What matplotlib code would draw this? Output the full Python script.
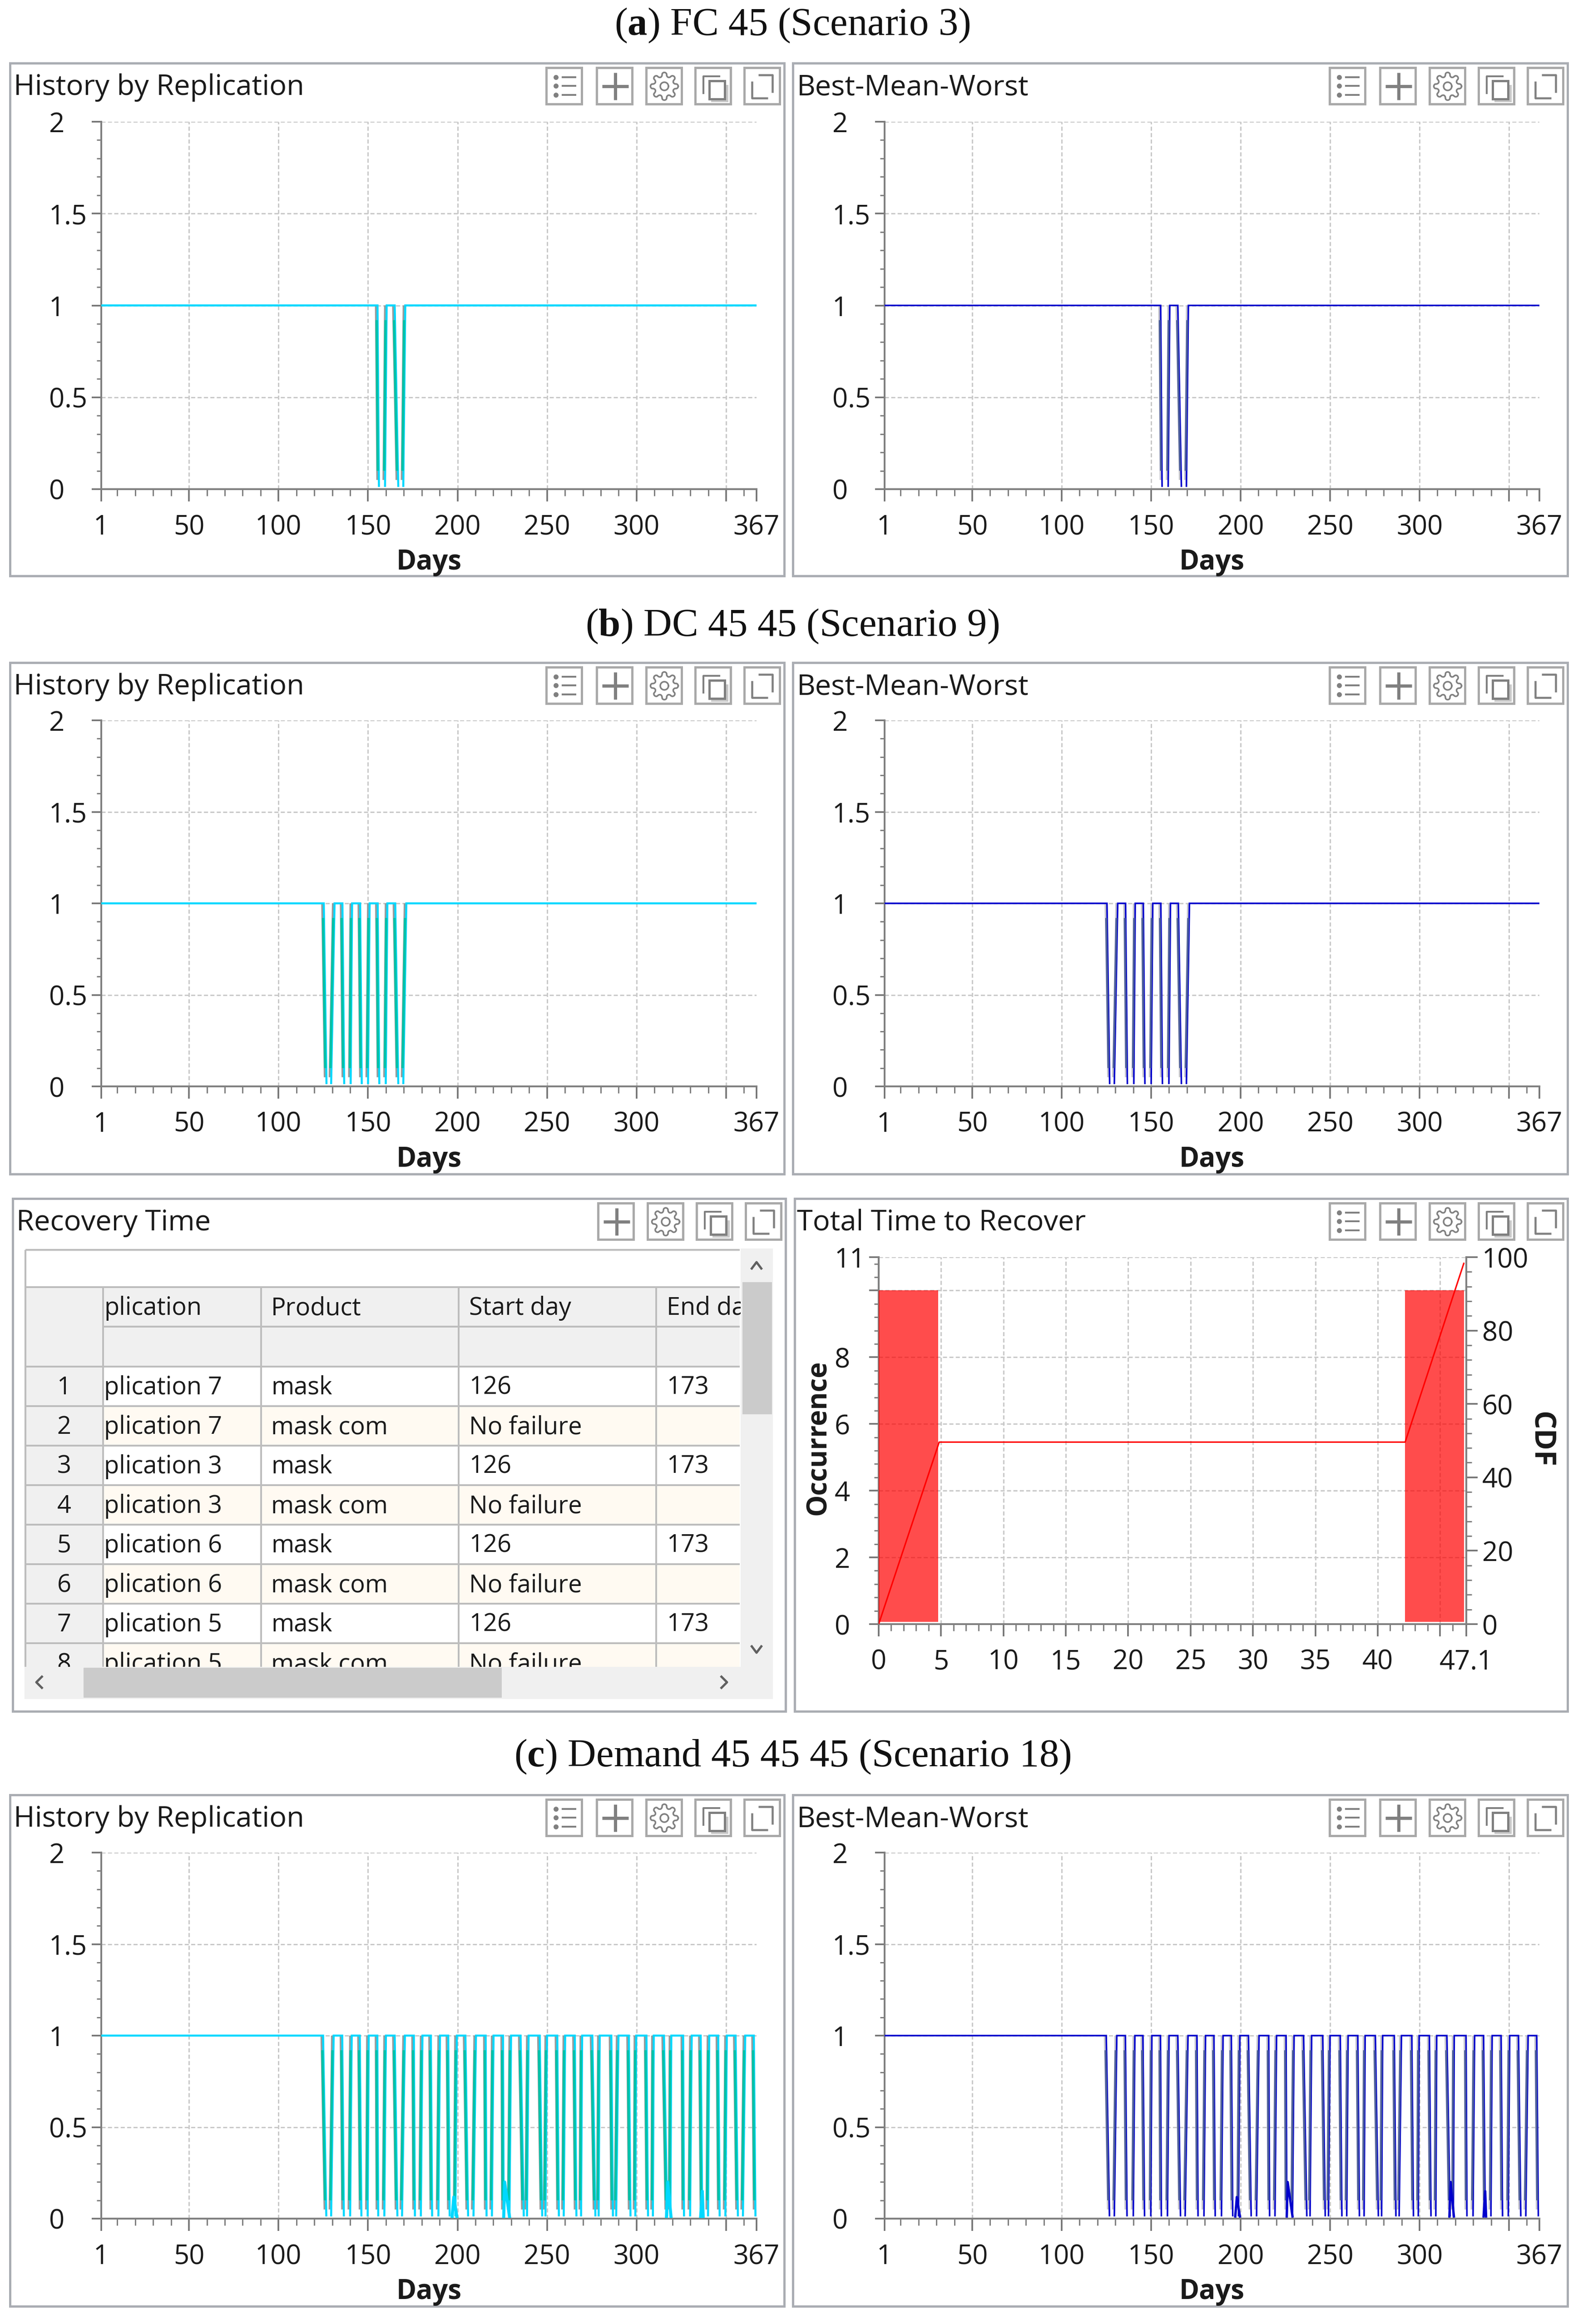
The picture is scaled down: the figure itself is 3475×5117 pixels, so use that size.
import numpy as np
import matplotlib
matplotlib.use("Agg")
import matplotlib.pyplot as plt
from matplotlib.patches import Rectangle

W, H = 3475, 5117
plt.rcParams['font.family'] = ['Open Sans', 'DejaVu Sans']
plt.rcParams['mathtext.fontset'] = 'custom'
plt.rcParams['mathtext.rm'] = 'Liberation Serif'
plt.rcParams['mathtext.bf'] = 'Liberation Serif:bold'

# ---------- data ----------
fc_fall_start = [155.3, 164.9]
fc_fall_end = [156.1, 166.9]
fc_rise_start = [159.5, 169.7]
fc_rise_end = [160.4, 170.8]

dc_fall_start = [125.3, 135.7, 145.6, 155.4, 165.2]
dc_fall_end = [126.8, 136.7, 146.5, 156.3, 166.9]
dc_rise_start = [129.4, 140.3, 150.0, 159.9, 169.7]
dc_rise_end = [131.3, 141.1, 150.9, 160.8, 171.4]

dm_fall_start = [124.9, 135.6, 145.4, 155.2, 164.9, 175.6, 185.1, 194.8, 204.4, 215.7,
                 225.4, 235.2, 245.9, 255.7, 265.5, 275.3, 285.9, 295.7, 305.5, 315.3,
                 326.0, 335.8, 345.6, 355.3, 365.5]
dm_fall_end = [126.7, 136.5, 146.3, 155.7, 166.4, 176.2, 185.8, 195.6, 205.9, 216.2,
               225.8, 237.0, 247.3, 256.6, 266.4, 277.0, 286.8, 296.6, 306.4, 317.1,
               326.5, 336.7, 346.4, 356.6, 366.4]
dm_rise_start = [129.4, 140.0, 149.8, 159.1, 169.0, 179.5, 189.3, 198.8, 208.9, 219.2,
                 229.0, 238.8, 249.1, 259.3, 269.0, 278.8, 288.6, 299.3, 309.1, 318.9,
                 329.9, 339.9, 349.6, 359.4]
dm_rise_end = [130.8, 140.9, 150.4, 160.0, 170.6, 180.4, 190.2, 199.6, 210.3, 220.1,
               229.9, 239.7, 250.0, 260.1, 269.6, 279.4, 289.9, 299.8, 309.6, 319.4,
               330.8, 340.6, 350.4, 360.7]
glitch_start = [197.0, 225.8, 316.7, 335.8]
glitch_peak = [197.9, 226.3, 317.4, 336.7]
glitch_end = [199.6, 229.0, 319.2, 337.2]
glitch_height = [0.118, 0.2, 0.2, 0.15]

day_major = [1, 50, 100, 150, 200, 250, 300, 350, 367]
day_labels = ['1', '50', '100', '150', '200', '250', '300', '', '367']
day_minor = [10, 20, 30, 40, 60, 70, 80, 90, 110, 120, 130, 140, 160, 170, 180, 190, 210, 220,
             230, 240, 260, 270, 280, 290, 310, 320, 330, 340, 360]
level_major = [0, 0.5, 1, 1.5, 2]
level_labels = ['0', '0.5', '1', '1.5', '2']

ttr_edges = [0, 4.77, 42.2, 46.9]
ttr_counts = [10, 10]
ttr_cdf_x = [0, 4.85, 42.2, 46.9]
ttr_cdf_y = [0, 49.6, 49.6, 98.3]
ttr_x_major = [0, 5, 10, 15, 20, 25, 30, 35, 40, 45, 47.1]
ttr_x_labels = ['0', '5', '10', '15', '20', '25', '30', '35', '40', '', '47.1']
ttr_y_major = [0, 2, 4, 6, 8, 10, 11]
ttr_y_labels = ['0', '2', '4', '6', '8', '', '11']
cdf_major = [0, 20, 40, 60, 80, 100]

table_ids = ['1', '2', '3', '4', '5', '6', '7', '8']
table_headers = ['plication', 'Product', 'Start day', 'End day']
table_replication = ['plication 7', 'plication 7', 'plication 3', 'plication 3',
                     'plication 6', 'plication 6', 'plication 5', 'plication 5']
table_product = ['mask', 'mask com'] * 4
table_start = ['126', 'No failure'] * 4
table_end = ['173', ''] * 4

captions = [(r'($\mathbf{a}$) FC 45 (Scenario 3)', 56),
            (r'($\mathbf{b}$) DC 45 45 (Scenario 9)', 1379),
            (r'($\mathbf{c}$) Demand 45 45 45 (Scenario 18)', 3868)]

# ---------- style ----------
PX = 72 / 100.0
FS_TITLE = 45.5
FS_TICK = 43
FS_TABLE = 39
FS_BOLD = 43
FRAME = '#AAADB3'
ICON = '#808080'
GRID = '#C9C9C9'
AXC = '#808080'
TXT = '#1a1a1a'

fig = plt.figure(figsize=(W / 100, H / 100), dpi=100, facecolor='white')
bg = fig.add_axes([0, 0, 1, 1], zorder=0)
bg.set_xlim(0, W)
bg.set_ylim(H, 0)
bg.axis('off')


def add_axes_px(l, r, t, b, **kw):
    return fig.add_axes([l / W, 1 - b / H, (r - l) / W, (b - t) / H], facecolor='none', **kw)


def rect(x0, y0, x1, y1, fc, ec='none', lw=0, z=1):
    bg.add_patch(Rectangle((x0, y0), x1 - x0, y1 - y0, facecolor=fc, edgecolor=ec,
                           linewidth=lw * PX, zorder=z))


def seg(xs, ys, c=ICON, lw=4, z=3):
    bg.plot(xs, ys, color=c, lw=lw * PX, zorder=z, solid_capstyle='butt')


def icon_box(x0, y0):
    rect(x0, y0, x0 + 78, y0 + 80, 'white', '#A9A9A9', 5, 2)


def icon_list(x0, y0):
    icon_box(x0, y0)
    for k in (21, 40, 60):
        bg.plot([x0 + 21], [y0 + k], 'o', ms=11 * PX, color=ICON, zorder=3, mew=0)
        seg([x0 + 34, x0 + 66], [y0 + k, y0 + k], lw=4)


def icon_plus(x0, y0):
    icon_box(x0, y0)
    seg([x0 + 12, x0 + 70], [y0 + 41, y0 + 41], lw=7)
    seg([x0 + 41, x0 + 41], [y0 + 11, y0 + 71], lw=7)


def icon_gear(x0, y0):
    icon_box(x0, y0)
    th = np.linspace(0, 2 * np.pi, 200)
    r = 26 + 4.5 * np.sign(np.cos(8 * th)) * np.abs(np.cos(8 * th)) ** 0.5
    bg.plot(x0 + 40 + r * np.cos(th), y0 + 41 + r * np.sin(th), color=ICON, lw=3.5 * PX, zorder=3)
    bg.plot(x0 + 40 + 9 * np.cos(th), y0 + 41 + 9 * np.sin(th), color=ICON, lw=3.5 * PX, zorder=3)


def icon_copy(x0, y0):
    icon_box(x0, y0)
    seg([x0 + 18, x0 + 18, x0 + 55], [y0 + 58, y0 + 19, y0 + 19], lw=4)
    rect(x0 + 35, y0 + 38, x0 + 73, y0 + 76, '#C8C8C8', z=3)
    rect(x0 + 31, y0 + 29, x0 + 65, y0 + 69, 'white', ICON, 5, 4)


def icon_expand(x0, y0):
    icon_box(x0, y0)
    seg([x0 + 31, x0 + 62, x0 + 62], [y0 + 16, y0 + 16, y0 + 55], lw=4.5)
    seg([x0 + 17, x0 + 17, x0 + 52], [y0 + 30, y0 + 67, y0 + 67], lw=4.5)


def panel(l, r, t, b, title, with_list=True, title_dx=7):
    rect(l, t, r, b, 'white', FRAME, 5, 0.5)
    bg.text(l + title_dx, t + 54, title, fontsize=FS_TITLE, color=TXT, va='center', ha='left', zorder=3)
    if with_list:
        icon_list(r - 524, t + 10)
    icon_plus(r - 413, t + 10)
    icon_gear(r - 304, t + 10)
    icon_copy(r - 196, t + 10)
    icon_expand(r - 88, t + 10)


def style_axis(ax, left_pad_px):
    for s in ('top', 'right'):
        ax.spines[s].set_visible(False)
    for s in ('left', 'bottom'):
        ax.spines[s].set_color(AXC)
        ax.spines[s].set_linewidth(4 * PX)
    ax.tick_params(axis='both', which='major', color='#707070', width=3.5 * PX, labelsize=FS_TICK,
                   labelcolor=TXT)
    ax.tick_params(axis='x', which='major', length=27 * PX, pad=27 * PX)
    ax.tick_params(axis='x', which='minor', length=15 * PX, width=3 * PX, color='#808080')
    ax.tick_params(axis='y', which='major', length=21 * PX, pad=left_pad_px * PX)
    ax.tick_params(axis='y', which='minor', length=10 * PX, width=3 * PX, color='#808080')
    plt.setp(ax.get_yticklabels(), ha='left')
    ax.grid(True, which='major', color=GRID, lw=3 * PX, ls=(0, (3, 1.7)))
    ax.set_axisbelow(True)


def edges(fs, fe, rs, re, low, dx=0.0, y_hi=1.0, y_lo=None):
    """Falling and rising edges of a trace, cut to y_hi ... y_lo."""
    y_lo = low if y_lo is None else y_lo
    out = []
    for a, b in zip(fs, fe):
        xa = a + (b - a) * (1 - y_hi) / (1 - low)
        xb = a + (b - a) * (1 - y_lo) / (1 - low)
        out.append(([xa + dx, xb + dx], [y_hi, y_lo]))
    for a, b in zip(rs, re):
        xa = a + (b - a) * (y_lo - low) / (1 - low)
        xb = a + (b - a) * (y_hi - low) / (1 - low)
        out.append(([xa + dx, xb + dx], [y_lo, y_hi]))
    return out


def trace(fs, fe, rs, re, low=0.012):
    xs, ys = [1], [1]
    for i in range(len(fs)):
        xs += [fs[i], fe[i]]
        ys += [1, low]
        if i < len(rs):
            xs += [np.nan, rs[i], re[i]]
            ys += [np.nan, low, 1]
    if len(rs) == len(fs):
        xs.append(367)
        ys.append(1)
    return xs, ys


def history_chart(l, r, t, b, fs, fe, rs, re, palette, lw_px, glitches=False):
    top_c, mid_c, gray_c = palette
    ax = add_axes_px(l, r, t, b, zorder=2)
    ax.set_xlim(1, 367)
    ax.set_ylim(0, 2)
    ax.set_xticks(day_major)
    ax.set_xticklabels(day_labels)
    ax.set_xticks(day_minor, minor=True)
    ax.set_yticks(level_major)
    ax.set_yticklabels(level_labels)
    ax.set_yticks(np.arange(0, 2.01, 0.1), minor=True)
    style_axis(ax, 94)
    for tk in ax.xaxis.get_major_ticks():
        if tk.get_loc() in (1, 367):
            tk.gridline.set_visible(False)
    ax.yaxis.get_major_ticks()[0].gridline.set_visible(False)

    low = 0.012
    for ex, ey in edges(fs, fe, rs, re, low, dx=-0.7, y_lo=0.05):
        ax.plot(ex, ey, color=gray_c, lw=(lw_px + 1.5) * PX, solid_capstyle='butt', zorder=3)
    xs, ys = trace(fs, fe, rs, re, low)
    ax.plot(xs, ys, color=top_c, lw=lw_px * PX, solid_joinstyle='miter', solid_capstyle='butt', zorder=4)
    for ex, ey in edges(fs, fe, rs, re, low, dx=-0.55, y_hi=0.92, y_lo=0.1):
        ax.plot(ex, ey, color=mid_c, lw=(lw_px + 0.8) * PX, solid_capstyle='butt', zorder=5)
    if glitches:
        for a, p, e, h in zip(glitch_start, glitch_peak, glitch_end, glitch_height):
            ax.plot([a, p, e], [low, h, low], color=top_c, lw=lw_px * 1.5 * PX, zorder=6)
    return ax


CYAN = ('#00D8FF', '#00C2A8', '#9A9A9A')
BLUE = ('#0000CC', '#4A5C9C', '#C2C2CA')

# ---------- captions ----------
for cap, yy in captions:
    bg.text(1745, yy, cap, fontsize=62.5, family='Liberation Serif', ha='center', va='center', color='#111111')

# ---------- history rows ----------
rows = [(139, 1268, 129, 938, fc_fall_start, fc_fall_end, fc_rise_start, fc_rise_end, False),
        (1459, 2585, 127, 933, dc_fall_start, dc_fall_end, dc_rise_start, dc_rise_end, False),
        (3952, 5078, 127, 933, dm_fall_start, dm_fall_end, dm_rise_start, dm_rise_end, True)]
for top, bottom, a_top, a_bot, fs, fe, rs, re, gl in rows:
    panel(22, 1727, top, bottom, 'History by Replication', title_dx=8)
    panel(1746, 3452, top, bottom, 'Best-Mean-Worst', title_dx=9)
    for l, r, pal, lw in ((223, 1666, CYAN, 4.5), (1948, 3390, BLUE, 3.5)):
        ax = history_chart(l, r, top + a_top, top + a_bot, fs, fe, rs, re, pal, lw, gl)
        ax.text(0.5, -0.2, 'Days', transform=ax.transAxes, fontsize=FS_BOLD, fontweight='bold',
                ha='center', va='center', color=TXT)

# ---------- recovery table ----------
P_T, P_B = 2639, 3768
panel(28, 1730, P_T, P_B, 'Recovery Time', with_list=False, title_dx=8)
T_L, T_R, T_T, T_B = 56, 1629, 2752, 3670
HEAD_1, HEAD_2, HEAD_3 = 2834, 2921, 3009
ROW_H = 87
COLS = [227, 575, 1010, 1445]
LINE = '#BDBDBD'
rect(T_L, HEAD_1, T_R, HEAD_3, '#F0F0F0', z=1)
rect(T_L, HEAD_3, COLS[0], T_B, '#F0F0F0', z=1)
for i in range(len(table_ids)):
    y0 = HEAD_3 + i * ROW_H
    if i % 2 == 1:
        rect(COLS[0], y0, T_R, y0 + ROW_H, '#FFFAF2', z=1)
    seg([T_L, T_R], [y0, y0], c=LINE, lw=4, z=2)
seg([T_L, T_R], [T_T, T_T], c=LINE, lw=4, z=2)
seg([T_L, T_R], [HEAD_1, HEAD_1], c=LINE, lw=4, z=2)
seg([COLS[0], T_R], [HEAD_2, HEAD_2], c=LINE, lw=4, z=2)
seg([T_L, T_L], [T_T, T_B], c=LINE, lw=4, z=2)
for c in COLS:
    seg([c, c], [HEAD_1, T_B], c=LINE, lw=4, z=2)
TEXT_X = [229, 597, 1033, 1468]
for x, h in zip(TEXT_X, table_headers):
    bg.text(x, (HEAD_1 + HEAD_2) / 2 + 3, h, fontsize=FS_TABLE, va='center', color=TXT, zorder=3)
for i in range(len(table_ids)):
    yc = HEAD_3 + (i + 0.5) * ROW_H + 3
    bg.text(141, yc, table_ids[i], fontsize=FS_TABLE, va='center', ha='center', color=TXT, zorder=3)
    for x, col in zip(TEXT_X, (table_replication, table_product, table_start, table_end)):
        bg.text(x, yc, col[i], fontsize=FS_TABLE, va='center', color=TXT, zorder=3)
# scroll bars cover whatever runs out of the table
rect(T_R + 2, T_T - 3, 1702, T_B, '#F0F0F0', z=4)
rect(1635, 2823, 1700, 3114, '#CBCBCB', z=5)
rect(T_L - 2, T_B, 1702, 3741, '#F0F0F0', z=4)
rect(184, 3672, 1105, 3738, '#CBCBCB', z=5)
CH = '#606060'
seg([1654, 1666, 1678], [2795, 2779, 2795], c=CH, lw=5, z=6)
seg([1654, 1666, 1678], [3623, 3639, 3623], c=CH, lw=5, z=6)
seg([94, 80, 94], [3690, 3704, 3718], c=CH, lw=5, z=6)
seg([1587, 1601, 1587], [3690, 3704, 3718], c=CH, lw=5, z=6)

# ---------- total time to recover ----------
panel(1750, 3452, P_T, P_B, 'Total Time to Recover', title_dx=5)
ax = add_axes_px(1935, 3229, 2768, 3576, zorder=2)
ax.set_xlim(0, 47.1)
ax.set_ylim(0, 11)
ax.set_xticks(ttr_x_major)
ax.set_xticklabels(ttr_x_labels)
ax.set_xticks(np.arange(0, 47, 1), minor=True)
ax.set_yticks(ttr_y_major)
ax.set_yticklabels(ttr_y_labels)
ax.set_yticks(np.arange(0, 11.01, 0.4), minor=True)
style_axis(ax, 76)
for tk in ax.xaxis.get_major_ticks():
    if tk.get_loc() in (0, 47.1):
        tk.gridline.set_visible(False)
ax.yaxis.get_major_ticks()[0].gridline.set_visible(False)
base = 0.07
ax.bar([ttr_edges[0], ttr_edges[2]], [c - base for c in ttr_counts],
       width=[ttr_edges[1] - ttr_edges[0], ttr_edges[3] - ttr_edges[2]], bottom=base,
       align='edge', color='#FF0000', alpha=0.7, linewidth=0, zorder=3)
ax2 = ax.twinx()
ax2.set_facecolor('none')
ax2.set_ylim(0, 100)
ax2.set_yticks(cdf_major)
ax2.set_yticks(np.arange(0, 100.01, 4), minor=True)
ax2.plot(ttr_cdf_x, ttr_cdf_y, color='#FF0000', lw=3.2 * PX, zorder=4)
for s in ('top', 'left', 'bottom'):
    ax2.spines[s].set_visible(False)
ax2.spines['right'].set_color(AXC)
ax2.spines['right'].set_linewidth(4 * PX)
ax2.tick_params(axis='y', which='major', length=25 * PX, width=3.5 * PX, color='#707070', pad=10 * PX,
                labelsize=FS_TICK, labelcolor=TXT)
ax2.tick_params(axis='y', which='minor', length=12 * PX, width=3 * PX, color='#808080')
bg.text(1802, 3165, 'Occurrence', rotation=90, fontsize=FS_BOLD, fontweight='bold', ha='center',
        va='center', color=TXT, zorder=3)
bg.text(3392, 3169, 'CDF', rotation=270, fontsize=46, fontweight='bold', ha='center',
        va='center', color=TXT, zorder=3)

fig.savefig('out.png', dpi=100, facecolor='white')
